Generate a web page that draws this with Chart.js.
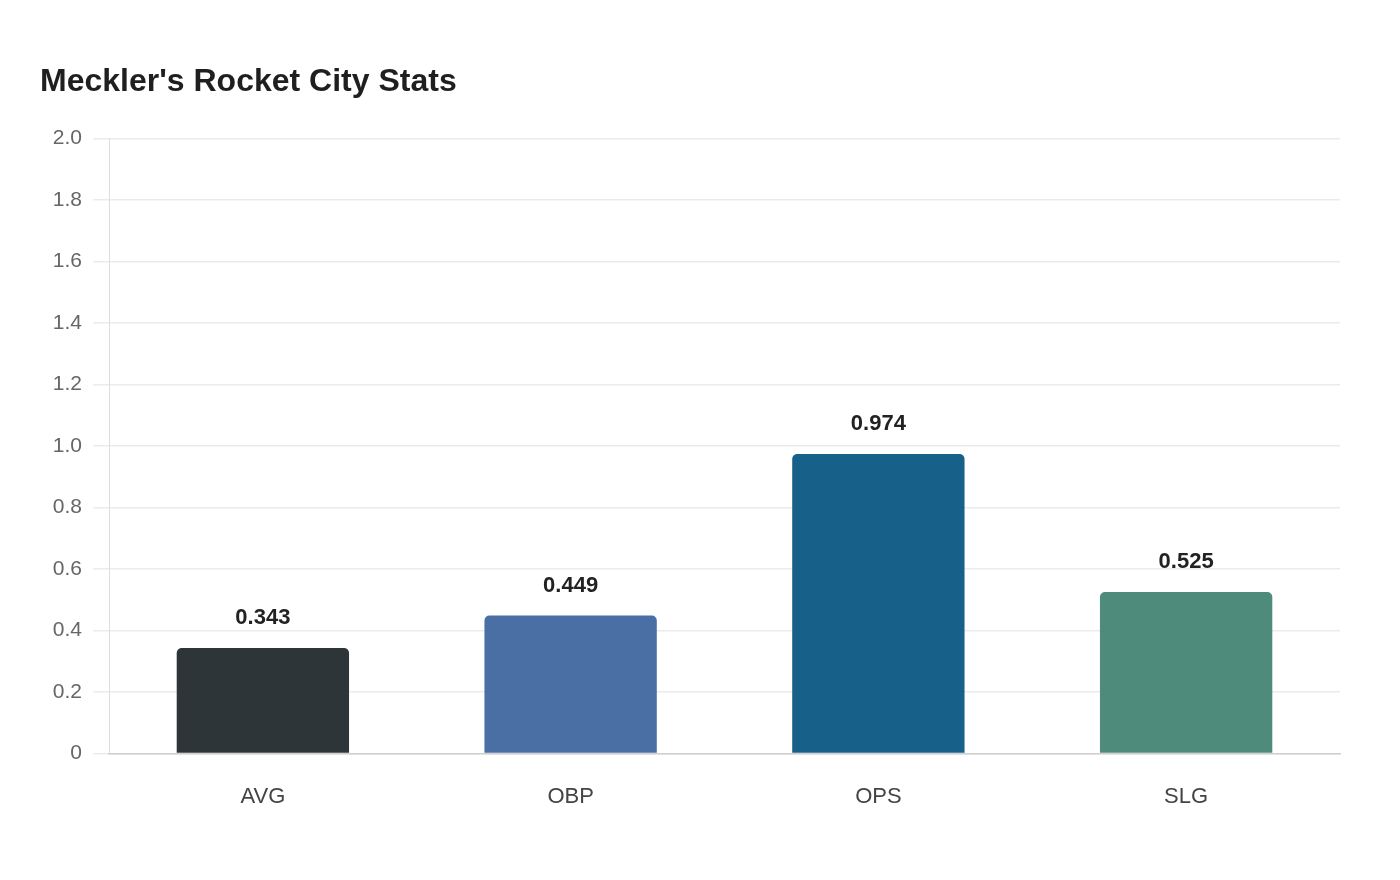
<!DOCTYPE html>
<html>
<head>
<meta charset="utf-8">
<script src="https://cdn.jsdelivr.net/npm/chart.js@4/dist/chart.umd.min.js"></script>
<style>
html,body{margin:0;padding:0;background:#fff;}
#wrap{position:relative;width:1400px;height:880px;}
</style>
</head>
<body>
<div id="wrap"><canvas id="c" width="1400" height="880"></canvas></div>
<script>
const titleText = "Meckler's Rocket City Stats";
const categories = ["AVG", "OBP", "OPS", "SLG"];
const values = [0.343, 0.449, 0.974, 0.525];
const barColors = ["#2e3538", "#4a6fa5", "#17608a", "#4f8b7a"];
const yTicks = [0, 0.2, 0.4, 0.6, 0.8, 1.0, 1.2, 1.4, 1.6, 1.8, 2.0];

const FONT = "'Liberation Sans', Arial, Helvetica, sans-serif";

const valueLabels = {
  id: 'valueLabels',
  afterDatasetsDraw(chart) {
    const ctx = chart.ctx;
    const meta = chart.getDatasetMeta(0);
    ctx.save();
    ctx.font = "bold 22px " + FONT;
    ctx.fillStyle = "#222222";
    ctx.textAlign = "center";
    ctx.textBaseline = "middle";
    meta.data.forEach((bar, i) => {
      ctx.fillText(values[i].toFixed(3), bar.x, bar.y - 30);
    });
    ctx.restore();
  }
};

new Chart(document.getElementById('c'), {
  type: 'bar',
  data: {
    labels: categories,
    datasets: [{
      data: values,
      backgroundColor: barColors,
      borderRadius: {topLeft: 5, topRight: 5, bottomLeft: 0, bottomRight: 0},
      borderSkipped: false,
      barPercentage: 0.7,
      categoryPercentage: 0.8
    }]
  },
  options: {
    responsive: false,
    animation: false,
    devicePixelRatio: 1,
    layout: { padding: { left: 40, right: 60, top: 63, bottom: 40 } },
    plugins: {
      legend: { display: false },
      tooltip: { enabled: false },
      title: {
        display: true,
        text: titleText,
        align: 'start',
        color: '#1f1f1f',
        font: { family: FONT, size: 32, weight: 'bold' },
        padding: { top: 0, bottom: 37 }
      }
    },
    scales: {
      x: {
        grid: { display: false, drawTicks: false },
        border: { display: true, color: '#cfcfcf', width: 1.5 },
        ticks: { color: '#444', font: { family: FONT, size: 22 }, padding: 30 }
      },
      y: {
        min: 0,
        max: 2.0,
        afterBuildTicks(scale) { scale.ticks = yTicks.map(v => ({ value: v })); },
        afterFit(scale) { scale.width = 69; },
        grid: { color: '#ebebeb', lineWidth: 1.5, tickLength: 16, tickColor: '#ebebeb' },
        border: { display: true, color: '#dddddd', width: 1 },
        ticks: {
          color: '#666',
          font: { family: FONT, size: 21 },
          padding: 11,
          callback: (v) => v === 0 ? '0' : Number(v).toFixed(1)
        }
      }
    }
  },
  plugins: [valueLabels]
});
</script>
</body>
</html>
